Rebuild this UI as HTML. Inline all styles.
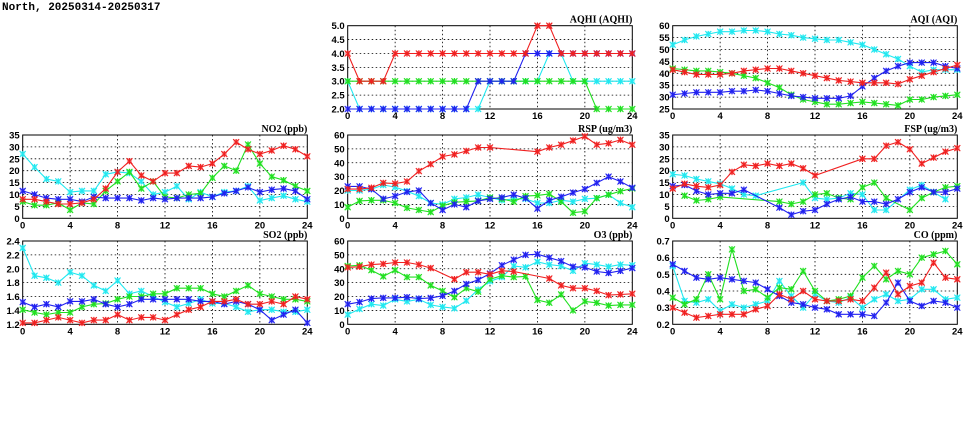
<!DOCTYPE html>
<html><head><meta charset="utf-8">
<style>
body{margin:0;background:#fff;width:975px;height:447px;overflow:hidden;font-family:"Liberation Sans",sans-serif}
svg{display:block}
</style></head>
<body>
<svg id="chart" width="975" height="447" xmlns="http://www.w3.org/2000/svg">
<text x="2" y="10" font-family="Liberation Mono, monospace" font-weight="bold" font-size="11">North, 20250314-20250317</text>
</svg>
<script>
const hours=[0,1,2,3,4,5,6,7,8,9,10,11,12,13,14,15,16,17,18,19,20,21,22,23,24];
const xTicks=[0,4,8,12,16,20,24];
const N=null;
const seriesColors=["#20e8f0","#20e020","#2020f0","#f02020"];
const seriesNames=["cyan","green","blue","red"];

const aqhiTicks=[2,2.5,3,3.5,4,4.5,5];
const aqhiCyan=[3,2,2,2,2,2,2,2,2,2,2,2,3,3,3,3,3,4,4,3,3,3,3,3,3];
const aqhiGreen=[3,3,3,3,3,3,3,3,3,3,3,3,3,3,3,3,3,3,3,3,3,2,2,2,2];
const aqhiBlue=[2,2,2,2,2,2,2,2,2,2,2,3,3,3,3,4,4,4,4,4,4,4,4,4,4];
const aqhiRed=[4,3,3,3,4,4,4,4,4,4,4,4,4,4,4,4,5,5,4,4,4,4,4,4,4];

const aqiTicks=[25,30,35,40,45,50,55,60];
const aqiCyan=[52,54,55.5,56.5,57.5,57.5,58,58,57.5,56.5,56,55,54.5,54,54,53,52,50,48,46,43,40.5,41.5,41.5,41.5];
const aqiGreen=[42,41.5,41,41,40.5,40,39,38,36,34,31,29,28,27,27,27.5,28,27.5,27,26.5,29,29,30,30.5,31];
const aqiBlue=[31,31.5,32,32,32,32.5,32.5,33,32.5,31.5,30.5,30,29.5,29.5,29.5,30.5,34.5,38,41,43,44.5,44.5,44.5,43,42];
const aqiRed=[41.5,40.5,39.5,39.5,39.5,40,41,41.5,42,42,41,40,39,38,37,36.5,36,36,36,35.5,37.5,39,40.5,42,43.5];

const no2Ticks=[0,5,10,15,20,25,30,35];
const no2Cyan=[27,21.5,16.5,15.5,11,11.5,11.5,18.5,19.5,19,15.5,10,11,13.5,8,11,9,11,11.5,13.5,7.5,8.5,9.5,8,7];
const no2Green=[7,5.5,5.5,6.5,3.5,6.5,6,11.5,15.5,19.5,12.5,15.5,9,8.5,10,10.5,17,22,20,31,23,17.5,16,13.5,11.5];
const no2Blue=[11.5,10,8.5,8,8,7,9,8.5,8.5,8.5,7.5,8.5,8,8.5,8.5,8.5,9,10.5,11.5,13,11,12,12.5,11.5,8];
const no2Red=[8,8,7,6,6,6.5,8,12.5,19.5,24,18,15.5,19,19,22,21.5,23,27,32,29,27,28.5,30.5,29,26];

const rspTicks=[0,10,20,30,40,50,60];
const rspCyan=[20,20,21,24,22.5,19.5,16,11,10,14,15,17,15,13,14,14,11,11,13,12,14,14.5,17,11,8];
const rspGreen=[8,12.5,13,13,11,7.5,6,4.5,9,11.5,12,12.5,15,14,12,16,16.5,17.5,12,4,5,14.5,17,19.5,21.5];
const rspBlue=[23,23,21,14,16,19,20,11,6,10,8,12.5,14,15,17,14.5,7,13,15.5,18.5,21,25.5,30,26.5,22];
const rspRed=[21,21,22,25.5,25,26.5,34,39,44.5,46,48.5,51,51,N,N,N,48,51,53,56,59,53,54,56.5,53];

const fspTicks=[0,5,10,15,20,25,30,35];
const fspCyan=[18.5,18,16.5,15.5,14.5,12.5,10,9.5,N,N,N,15,8.5,8,8.5,10.5,10,3.5,3.5,N,12,14,11,8,N];
const fspGreen=[N,9.5,7.5,8,9,N,N,N,N,7,6,7,10,10.5,8.5,8,13,15,8.5,N,3.5,8.5,11,13,13.5];
const fspBlue=[13.5,14,11.5,10,10.5,10.5,12,N,N,4.5,1.5,3,3.5,6,8,9,7,7,6,8,11,13,11,11,12.5];
const fspRed=[12.5,14.5,13.5,13,14,19.5,22.5,22,23,22,23,21,18,N,N,N,25,25,30.5,32,29,23,25.5,28,29.5];

const so2Ticks=[1.2,1.4,1.6,1.8,2.0,2.2,2.4];
const so2Cyan=[2.3,1.9,1.87,1.8,1.95,1.9,1.76,1.68,1.83,1.64,1.68,1.6,1.52,1.45,1.5,1.56,1.5,1.5,1.45,1.38,1.41,1.41,1.38,1.38,1.41];
const so2Green=[1.41,1.37,1.34,1.37,1.37,1.45,1.49,1.5,1.56,1.6,1.6,1.64,1.64,1.72,1.72,1.72,1.64,1.6,1.68,1.76,1.64,1.6,1.56,1.56,1.53];
const so2Blue=[1.52,1.45,1.49,1.45,1.53,1.53,1.56,1.49,1.45,1.49,1.56,1.56,1.56,1.56,1.56,1.53,1.53,1.49,1.53,1.49,1.41,1.26,1.34,1.41,1.22];
const so2Red=[1.22,1.22,1.26,1.3,1.26,1.22,1.26,1.26,1.34,1.26,1.3,1.3,1.26,1.34,1.41,1.45,1.53,1.53,1.56,1.49,1.49,1.53,1.49,1.6,1.56];

const o3Ticks=[0,10,20,30,40,50,60];
const o3Cyan=[7,11,14.5,13.5,18,16.5,18,14,12.5,11.5,17,25,31,34,42,41,45,43,42,38.5,44,43,41.5,43,42.5];
const o3Green=[42,42.5,39,34.5,39,34,34,28,24,19.5,26,23.5,32.5,35,34,34.5,17.5,15.5,21.5,10,16.5,15.5,13.5,14,14];
const o3Blue=[14.5,16,18.5,19,19,19.5,18.5,19,20.5,24,29,32,36.5,42.5,46.5,50,50.5,48,45.5,41.5,41,38,37,38.5,40.5];
const o3Red=[41,41.5,43,43.5,44.5,44.5,43,40.5,N,32.5,37.5,37.5,36,38.5,38,N,N,33,28,26,26,24,21,21.5,22];

const coTicks=[0.2,0.3,0.4,0.5,0.6,0.7];
const coCyan=[0.55,0.34,0.33,0.35,0.28,0.32,0.3,0.32,0.34,0.46,0.37,0.3,0.38,0.34,0.33,0.36,0.3,0.35,0.38,0.34,0.35,0.41,0.41,0.35,0.36];
const coGreen=[0.36,0.32,0.35,0.5,0.35,0.65,0.4,0.41,0.36,0.42,0.41,0.52,0.4,0.34,0.35,0.37,0.48,0.55,0.47,0.52,0.5,0.6,0.62,0.64,0.56];
const coBlue=[0.56,0.52,0.48,0.47,0.48,0.47,0.46,0.45,0.41,0.37,0.33,0.32,0.3,0.29,0.26,0.26,0.26,0.25,0.33,0.45,0.34,0.31,0.34,0.33,0.3];
const coRed=[0.3,0.27,0.24,0.25,0.26,0.26,0.26,0.29,0.31,0.38,0.35,0.4,0.35,0.34,0.34,0.35,0.34,0.42,0.51,0.38,0.43,0.45,0.57,0.48,0.47];

const svg=document.getElementById('chart');
const NS="http://www.w3.org/2000/svg";
function mk(tag,attrs,parent){const e=document.createElementNS(NS,tag);for(const k in attrs)e.setAttribute(k,attrs[k]);(parent||svg).appendChild(e);return e;}

const cols=[22.7,347.7,672.7];const plotW=284.6;
const rows=[25.7,135,241];const plotH=83.3;

function panel(id,title,c,r,ticks,dec,series){
  const L=cols[c],T=rows[r],W=plotW,H=plotH;
  const lo=ticks[0],hi=ticks[ticks.length-1];
  const xs=h=>L+h/24*W;
  const ys=v=>T+H-(v-lo)/(hi-lo)*H;
  const g=mk('g',{});
  
  
  ticks.forEach((t,i)=>{
    const y=ys(t);
    if(i>0&&i<ticks.length-1){const gl=mk('line',{x1:L,x2:L+W,y1:y,y2:y,stroke:'#000','stroke-width':0.8,'stroke-dasharray':'1.5,2.5'},g);
      }
    const tl=mk('text',{x:L-3,y:y+3.5,'text-anchor':'end','font-size':9.5,'font-weight':'bold'},g);
    tl.textContent=t.toFixed(dec);
    
  });
  xTicks.forEach((t,i)=>{
    const x=xs(t);
    if(i>0&&i<xTicks.length-1){const gl=mk('line',{x1:x,x2:x,y1:T,y2:T+H,stroke:'#000','stroke-width':0.8,'stroke-dasharray':'1.5,2.5'},g);
      }
    const tl=mk('text',{x:x,y:T+H+10,'text-anchor':'middle','font-size':9.5,'font-weight':'bold'},g);
    tl.textContent=t;
    
  });
  const fr=mk('rect',{x:L,y:T,width:W,height:H,fill:'none',stroke:'#000','stroke-width':1},g);
  
  const tt=mk('text',{x:L+W,y:T-3,'text-anchor':'end','font-size':10,'font-weight':'bold','font-family':'Liberation Serif, serif'},g);
  tt.textContent=title;
  
  series.forEach((vals,si)=>{
    const col=seriesColors[si];
    let d='';let pen=false;
    vals.forEach((v,i)=>{if(v===null)return;d+=(pen?'L':'M')+xs(hours[i]).toFixed(1)+','+ys(v).toFixed(1);pen=true;});
    const p=mk('path',{d:d,fill:'none',stroke:col,'stroke-width':1.1},g);
    
    
    vals.forEach((v,i)=>{
      if(v===null)return;
      const x=xs(hours[i]),y=ys(v);
      const m=mk('g',{},g);
      
      
      mk('rect',{x:x-2.5,y:y-2.5,width:5,height:5,fill:col,'fill-opacity':0.45},m);
      mk('path',{d:`M${x-3},${y-3}L${x+3},${y+3}M${x-3},${y+3}L${x+3},${y-3}M${x},${y-3.2}L${x},${y+3.2}`,stroke:col,'stroke-width':1.1},m);
    });
  });
}
panel('aqhi','AQHI (AQHI)',1,0,aqhiTicks,1,[aqhiCyan,aqhiGreen,aqhiBlue,aqhiRed]);
panel('aqi','AQI (AQI)',2,0,aqiTicks,0,[aqiCyan,aqiGreen,aqiBlue,aqiRed]);
panel('no2','NO2 (ppb)',0,1,no2Ticks,0,[no2Cyan,no2Green,no2Blue,no2Red]);
panel('rsp','RSP (ug/m3)',1,1,rspTicks,0,[rspCyan,rspGreen,rspBlue,rspRed]);
panel('fsp','FSP (ug/m3)',2,1,fspTicks,0,[fspCyan,fspGreen,fspBlue,fspRed]);
panel('so2','SO2 (ppb)',0,2,so2Ticks,1,[so2Cyan,so2Green,so2Blue,so2Red]);
panel('o3','O3 (ppb)',1,2,o3Ticks,0,[o3Cyan,o3Green,o3Blue,o3Red]);
panel('co','CO (ppm)',2,2,coTicks,1,[coCyan,coGreen,coBlue,coRed]);
</script>
</body></html>
